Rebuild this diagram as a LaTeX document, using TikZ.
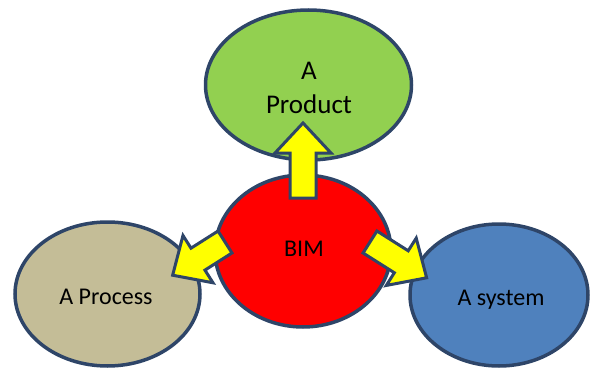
\documentclass[tikz,border=0pt]{standalone}
\usepackage{fontspec}
\setmainfont{Carlito}
\usetikzlibrary{shapes.geometric}
\definecolor{rimblue}{HTML}{2E4568}
\definecolor{prodgreen}{HTML}{92D050}
\definecolor{bimred}{HTML}{FF0000}
\definecolor{proctan}{HTML}{C4BD97}
\definecolor{sysblue}{HTML}{4F81BD}
\definecolor{arrowyellow}{HTML}{FFFF00}
\tikzset{
  bubble/.style={ellipse, draw=rimblue, line width=3.5pt, inner sep=0pt},
  bubbletext/.style={font=\fontsize{24}{29}\selectfont, align=center},
  blockarrow/.style={draw=rimblue, fill=arrowyellow, line width=3pt, line join=miter},
}
% block arrow along +x: #1 = length
\newcommand{\blockarrowpath}[1]{(0,-13) -- (#1-30,-13) -- (#1-30,-28) -- (#1,0) -- (#1-30,28) -- (#1-30,13) -- (0,13) -- cycle}
\begin{document}
\begin{tikzpicture}[x=1pt,y=1pt]
  \useasboundingbox (0,0) rectangle (590,368);
  % the four bubbles
  \node[bubble, fill=prodgreen, minimum width=206pt, minimum height=150pt] (product) at (308.5,283) {};
  \node[bubble, fill=proctan, minimum width=185pt, minimum height=144pt] (process) at (107.5,74) {};
  \node[bubble, fill=sysblue, minimum width=178pt, minimum height=142pt] (system) at (499,73) {};
  \node[bubble, fill=bimred, minimum width=176pt, minimum height=152pt] (bim) at (303,117) {};
  % labels
  \node[bubbletext, font=\fontsize{27}{34}\selectfont] (prodlabel) at (309,280) {A\\Product};
  \node[bubbletext] (bimlabel) at (304,119) {BIM};
  \node[bubbletext] (proclabel) at (106,71) {A Process};
  \node[bubbletext] (syslabel) at (501,68) {A system};
  % yellow block arrows pointing out of BIM
  \draw[blockarrow, shift={(303,170)}, rotate=90] \blockarrowpath{75};
  \draw[blockarrow, shift={(225,126)}, rotate=212.4] \blockarrowpath{62};
  \draw[blockarrow, shift={(370,126)}, rotate=-32.3] \blockarrowpath{67};
\end{tikzpicture}
\end{document}
